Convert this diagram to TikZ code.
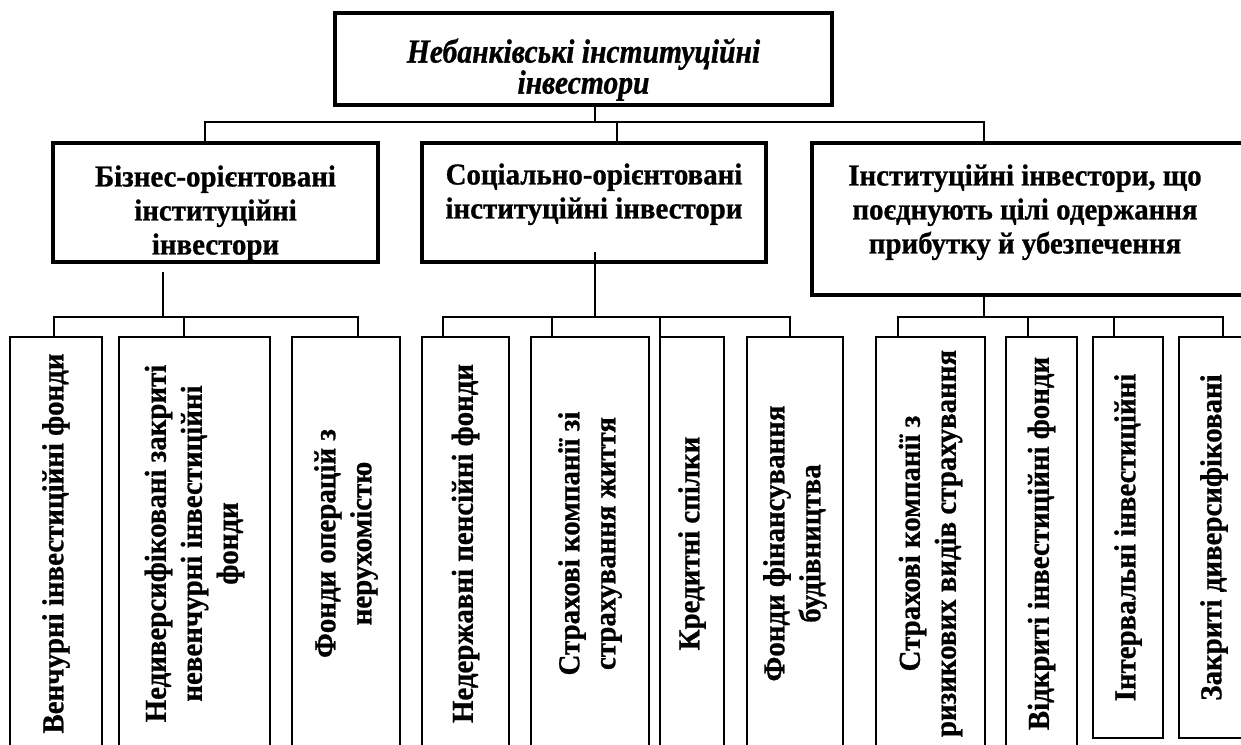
\documentclass[tikz,border=0pt]{standalone}
\usepackage{fontspec}
\setmainfont{Liberation Serif}
\newfontfamily\titlefam{Liberation Serif}[FakeStretch=0.88, FakeBold=0.8]
\newfontfamily\midfam{Liberation Serif}[FakeStretch=0.95, FakeBold=0.8]
\newfontfamily\vfam{Liberation Serif}[FakeStretch=0.95, FakeBold=0.8]
\begin{document}
\begin{tikzpicture}[x=0.5pt,y=-0.5pt,
  bigbox/.style={draw, line width=1.6pt, inner sep=0pt},
  smallbox/.style={draw, line width=0.9pt, inner sep=0pt, minimum height=206.5pt},
  shortbox/.style={draw, line width=0.9pt, inner sep=0pt, minimum height=200.5pt},
  conn/.style={line width=0.8pt},
  midtext/.style={align=center, font=\midfam\fontsize{15.2}{17}\selectfont\bfseries, inner sep=0pt, anchor=north},
  vtext/.style={align=center, font=\vfam\fontsize{15.2}{18}\selectfont\bfseries, inner sep=0pt, rotate=90}]
\useasboundingbox (0,0) rectangle (1241,744);
\clip (0,0) rectangle (1241,744);

% top
\node[bigbox, minimum width=248.5pt, minimum height=46pt] (top) at (583.5,59) {};
\node[align=center, font=\titlefam\fontsize{16.8}{15.5}\selectfont\bfseries\itshape, inner sep=0pt, anchor=north] (toptext) at (583.5,38) {Небанківські інституційні\\інвестори};

% middle level
\node[bigbox, minimum width=162.5pt, minimum height=59.5pt] (bus) at (215.5,202.5) {};
\node[midtext] (bustext) at (215.5,165) {Бізнес-орієнтовані\\інституційні\\інвестори};
\node[bigbox, minimum width=172pt, minimum height=59.5pt] (soc) at (594,202.5) {};
\node[midtext] (soctext) at (594,163) {Соціально-орієнтовані\\інституційні інвестори};
\node[bigbox, minimum width=216pt, minimum height=76pt] (inst) at (1028,219) {};
\node[midtext] (insttext) at (1025,164) {Інституційні інвестори, що\\поєднують цілі одержання\\прибутку й убезпечення};

% bottom level: business
\node[smallbox, minimum width=46pt] (ven) at (56,543.5) {};
\node[vtext] at (ven.center) {Венчурні інвестиційні фонди};
\node[smallbox, minimum width=75.5pt] (ned) at (194.5,543.5) {};
\node[vtext] at (ned.center) {Недиверсифіковані закриті\\невенчурні інвестиційні\\фонди};
\node[smallbox, minimum width=54pt] (fop) at (346,543.5) {};
\node[vtext] at (fop.center) {Фонди операцій з\\нерухомістю};

% bottom level: social
\node[smallbox, minimum width=43.5pt] (npf) at (465.5,543.5) {};
\node[vtext] at (npf.center) {Недержавні пенсійні фонди};
\node[smallbox, minimum width=59pt] (skz) at (590,543.5) {};
\node[vtext] at (skz.center) {Страхові компанії зі\\страхування життя};
\node[smallbox, minimum width=32pt] (kred) at (692,543.5) {};
\node[vtext] at (kred.center) {Кредитні спілки};
\node[smallbox, minimum width=48pt] (ffb) at (795,543.5) {};
\node[vtext] at (ffb.center) {Фонди фінансування\\будівництва};

% bottom level: mixed
\node[smallbox, minimum width=54.5pt] (skr) at (930.5,543.5) {};
\node[vtext] at (skr.center) {Страхові компанії з\\ризикових видів страхування};
\node[smallbox, minimum width=35.5pt] (vif) at (1041.5,543.5) {};
\node[vtext] at (vif.center) {Відкриті інвестиційні фонди};
\node[shortbox, minimum width=35pt] (iii) at (1128,537.5) {};
\node[vtext] at (iii.center) {Інтервальні інвестиційні};
\node[shortbox, minimum width=35pt] (zd) at (1214,537.5) {};
\node[vtext] at (zd.center) {Закриті диверсифіковані};

% connectors: top level
\coordinate (t0) at (595,122);
\coordinate (tb) at (205,122);
\coordinate (ts) at (617,122);
\coordinate (ti) at (984,122);
\draw[conn] (t0 |- top.south) -- (t0);
\draw[conn] (tb |- bus.north) -- (tb) -- (ti) -- (ti |- inst.north);
\draw[conn] (ts) -- (ts |- soc.north);

% business subtree
\coordinate (bt) at (163,272);
\coordinate (bh) at (163,317);
\coordinate (b1) at (54,317);
\coordinate (b2) at (184,317);
\coordinate (b3) at (358,317);
\draw[conn] (bt) -- (bh);
\draw[conn] (b1 |- ven.north) -- (b1) -- (b3) -- (b3 |- fop.north);
\draw[conn] (b2) -- (b2 |- ned.north);

% social subtree
\coordinate (st) at (595,252);
\coordinate (sh) at (595,317);
\coordinate (s1) at (443,317);
\coordinate (s2) at (552,317);
\coordinate (s3) at (660,317);
\coordinate (s4) at (790,317);
\draw[conn] (st) -- (sh);
\draw[conn] (s1 |- npf.north) -- (s1) -- (s4) -- (s4 |- ffb.north);
\draw[conn] (s2) -- (s2 |- skz.north);
\draw[conn] (s3) -- (s3 |- kred.north);

% mixed subtree
\coordinate (ih) at (984,317);
\coordinate (i1) at (898,317);
\coordinate (i2) at (1028,317);
\coordinate (i3) at (1114,317);
\coordinate (i4) at (1223,317);
\draw[conn] (ih |- inst.south) -- (ih);
\draw[conn] (i1 |- skr.north) -- (i1) -- (i4) -- (i4 |- zd.north);
\draw[conn] (i2) -- (i2 |- vif.north);
\draw[conn] (i3) -- (i3 |- iii.north);
\end{tikzpicture}
\end{document}
